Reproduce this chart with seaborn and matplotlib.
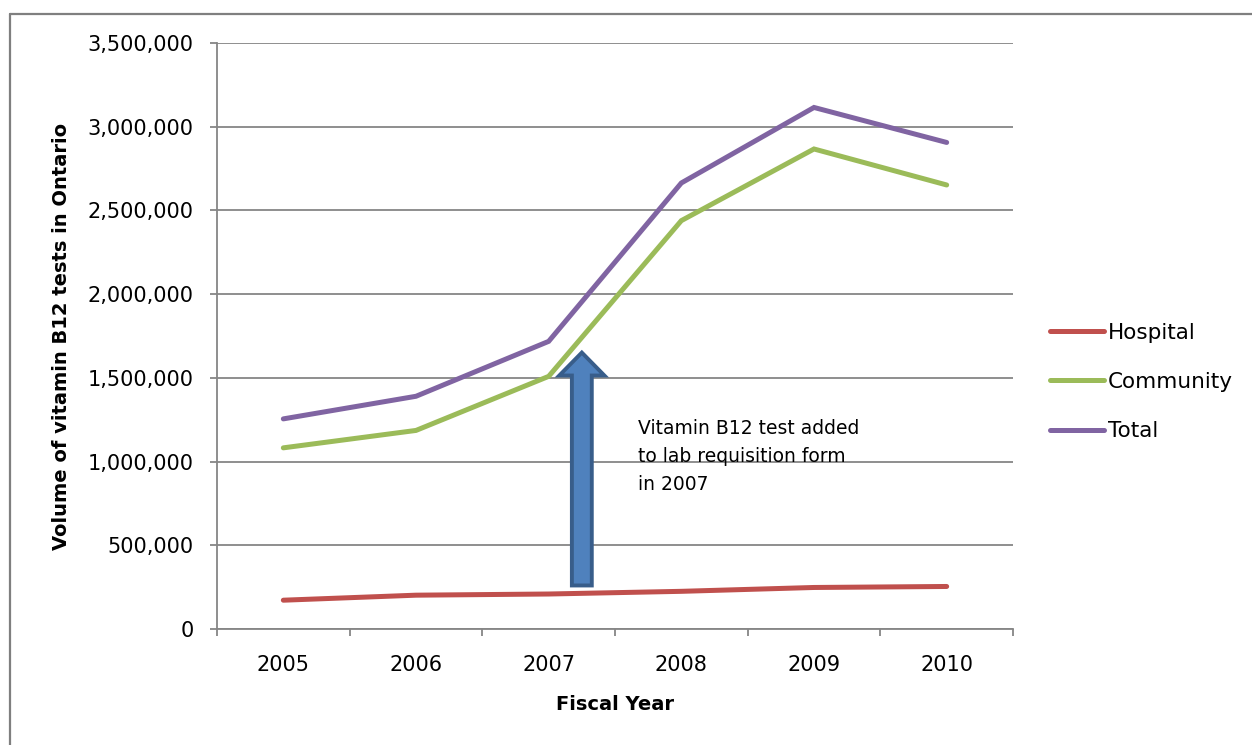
import matplotlib
matplotlib.use("Agg")
import matplotlib.pyplot as plt
import matplotlib.lines as mlines
from matplotlib.patches import FancyArrow
from matplotlib.ticker import FuncFormatter, FixedLocator
import seaborn as sns
import pandas as pd

# ---- data ----
years = ["2005", "2006", "2007", "2008", "2009", "2010"]
hospital = [172000, 202000, 209000, 225000, 248000, 254000]
community = [1082000, 1186000, 1509000, 2439000, 2867000, 2652000]
total = [1255000, 1390000, 1718000, 2664000, 3115000, 2906000]
series_names = ["Hospital", "Community", "Total"]
series_colors = ["#C0504D", "#9BBB59", "#8064A2"]
annotation_text = "Vitamin B12 test added\nto lab requisition form\nin 2007"

rows = []
for name, vals in zip(series_names, [hospital, community, total]):
    for i, (yr, v) in enumerate(zip(years, vals)):
        rows.append({"pos": i, "year": yr, "value": v, "series": name})
df = pd.DataFrame(rows)

sns.set_theme(style="white")
plt.rcParams["font.family"] = ["DejaVu Sans"]
plt.rcParams["text.color"] = "#000000"
plt.rcParams["axes.labelcolor"] = "#000000"
plt.rcParams["xtick.color"] = "#000000"
plt.rcParams["ytick.color"] = "#000000"

fig = plt.figure(figsize=(12.52, 7.45), dpi=100)
ax = fig.add_axes([217 / 1252, 1 - 629 / 745, (1013 - 217) / 1252, (629 - 43) / 745])

sns.lineplot(data=df, x="pos", y="value", hue="series", hue_order=series_names,
             palette=series_colors, linewidth=3.6, ax=ax, legend=False,
             solid_capstyle="round", solid_joinstyle="miter")

ax.set_xlim(-0.5, len(years) - 0.5)
ax.set_ylim(0, 3500000)
ax.set_yticks(range(0, 3500001, 500000))
ax.yaxis.set_major_formatter(FuncFormatter(lambda v, p: f"{int(v):,}"))
ax.set_xticks(range(len(years)))
ax.set_xticklabels(years)
ax.xaxis.set_minor_locator(FixedLocator([i - 0.5 for i in range(len(years) + 1)]))

grid_c = "#868686"
ax.grid(axis="y", color=grid_c, linewidth=1.3)
ax.grid(axis="x", visible=False)
ax.set_axisbelow(True)
for s in ["top", "right"]:
    ax.spines[s].set_visible(False)
for s in ["left", "bottom"]:
    ax.spines[s].set_color(grid_c)
    ax.spines[s].set_linewidth(1.3)

ax.tick_params(axis="y", which="major", direction="out", length=5, width=1.3,
               color=grid_c, left=True, labelsize=15, pad=12, labelcolor="#000000")
ax.tick_params(axis="x", which="major", length=0, labelsize=15, pad=19,
               labelcolor="#000000")
ax.tick_params(axis="x", which="minor", direction="out", length=5, width=1.3,
               color=grid_c, bottom=True)

ax.set_xlabel("Fiscal Year", fontsize=14, fontweight="bold", labelpad=14,
              color="#000000")
ax.set_ylabel("Volume of vitamin B12 tests in Ontario", fontsize=14,
              fontweight="bold", color="#000000")
ax.yaxis.set_label_coords(-0.183, 0.5)

# annotation arrow (data coordinates)
arrow_x = 2.25
arrow_y0 = 260000
arrow_y1 = 1651000
arrow = FancyArrow(arrow_x, arrow_y0, 0, arrow_y1 - arrow_y0, width=0.15,
                   head_width=0.34, head_length=137000, length_includes_head=True,
                   facecolor="#4F81BD", edgecolor="#385D8A", linewidth=2.8,
                   zorder=3)
ax.add_patch(arrow)
ax.text(2.675, 1255000, annotation_text, fontsize=13.5, va="top", ha="left",
        linespacing=1.62, color="#000000")

# legend
handles = [mlines.Line2D([], [], color=c, linewidth=3.6, solid_capstyle="round")
           for c in series_colors]
leg = fig.legend(handles, series_names, loc="center left",
                 bbox_to_anchor=(1050 / 1252, 1 - 382 / 745), frameon=False,
                 fontsize=15.5, handlelength=2.5, handletextpad=0.2,
                 labelspacing=1.35, borderpad=0, borderaxespad=0)
for t in leg.get_texts():
    t.set_color("#000000")

# outer chart border (top & left visible)
border_c = "#7F7F7F"
fig.add_artist(mlines.Line2D([10 / 1252, 1.0], [1 - 13.5 / 745, 1 - 13.5 / 745],
                             transform=fig.transFigure, color=border_c, linewidth=1.6))
fig.add_artist(mlines.Line2D([10 / 1252, 10 / 1252], [0, 1 - 13.5 / 745],
                             transform=fig.transFigure, color=border_c, linewidth=1.6))

fig.savefig("out.png", dpi=100, facecolor="white")
